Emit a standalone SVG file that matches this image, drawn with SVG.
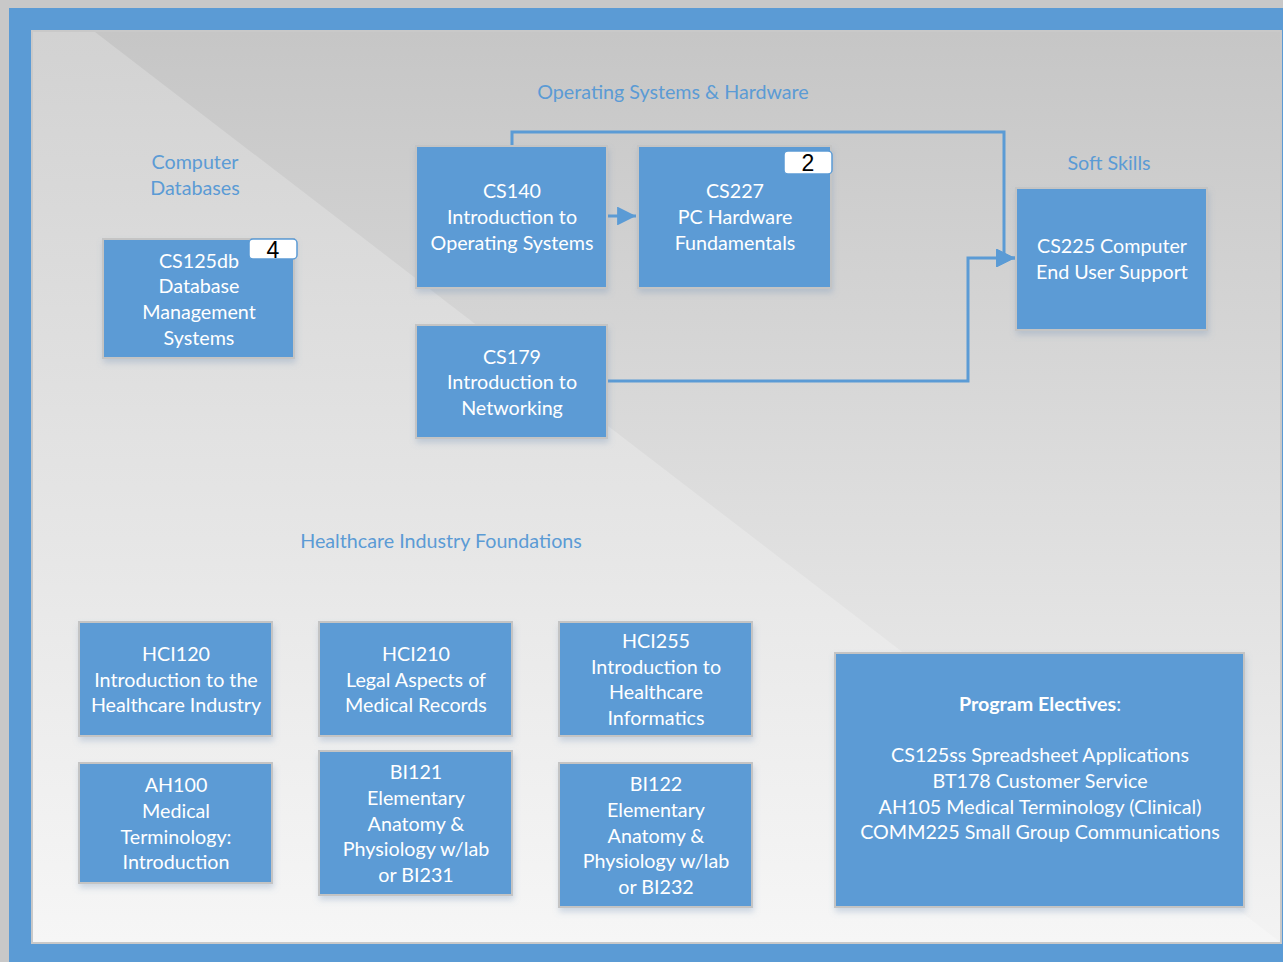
<svg xmlns="http://www.w3.org/2000/svg" width="1283" height="962" viewBox="0 0 1283 962">
<defs>
<linearGradient id="bgL" x1="0" y1="0" x2="0" y2="1">
<stop offset="0" stop-color="#d2d2d2"/>
<stop offset="1" stop-color="#f6f6f6"/>
</linearGradient>
<linearGradient id="bgR" x1="0" y1="0" x2="0" y2="1">
<stop offset="0" stop-color="#c6c6c6"/>
<stop offset="1" stop-color="#f3f3f3"/>
</linearGradient>
<filter id="sh" x="-10%" y="-10%" width="130%" height="130%">
<feDropShadow dx="1" dy="4" stdDeviation="3" flood-color="#6f8fb5" flood-opacity="0.3"/>
</filter>
<marker id="arr" viewBox="0 0 10 10" refX="10" refY="5" markerWidth="6.3" markerHeight="6.3" markerUnits="strokeWidth" orient="auto">
<path d="M0,0 L10,5 L0,10 z" fill="#5b9bd5"/>
</marker>
<style>
.node rect.box{fill:#5b9bd5;stroke:#c4c4c4;stroke-width:2;filter:url(#sh)}
.node text{font-family:Lato,"Liberation Sans",sans-serif;font-size:19.7px;fill:#ffffff;text-anchor:middle}
.lbl{font-family:Lato,"Liberation Sans",sans-serif;font-size:19.7px;fill:#5b9bd5;text-anchor:middle}
.badge rect{fill:#ffffff;stroke:#5b9bd5;stroke-width:1.5}
.badge text{font-family:"Liberation Sans",sans-serif;font-size:23px;fill:#000000;text-anchor:middle}
.conn path{fill:none;stroke:#5b9bd5;stroke-width:3}
</style>
</defs>
<rect x="0" y="0" width="1283" height="962" fill="#c8c8c8"/>
<rect x="9" y="8" width="1274" height="954" fill="#5b9bd5"/>
<rect x="31" y="30" width="1251" height="914" fill="#c9c9c9"/>
<rect x="33" y="32" width="1247" height="910" fill="url(#bgL)"/>
<polygon points="95,32 1280,32 1280,942" fill="url(#bgR)"/>

<g id="labels">
<text class="lbl" x="673" y="99">Operating Systems &amp; Hardware</text>
<text class="lbl" x="195" y="169">Computer</text>
<text class="lbl" x="195" y="195">Databases</text>
<text class="lbl" x="1109" y="170">Soft Skills</text>
<text class="lbl" x="441" y="548">Healthcare Industry Foundations</text>
</g>

<g id="connectors" class="conn">
<path d="M607,216 H636" marker-end="url(#arr)"/>
<path d="M512,146 V132 H1004 V258 H1015" marker-end="url(#arr)"/>
<path d="M607,381 H968 V258 H1015" marker-end="url(#arr)"/>
</g>

<g id="cs125db" class="node">
<rect class="box" x="103" y="239" width="191" height="119"/>
<text x="199" y="268">CS125db</text>
<text x="199" y="293">Database</text>
<text x="199" y="319">Management</text>
<text x="199" y="345">Systems</text>
<g class="badge"><rect x="249" y="239" width="48" height="20" rx="4"/><text x="273" y="258">4</text></g>
</g>

<g id="cs140" class="node">
<rect class="box" x="416" y="146" width="191" height="142"/>
<text x="512" y="198">CS140</text>
<text x="512" y="224">Introduction to</text>
<text x="512" y="250">Operating Systems</text>
</g>

<g id="cs227" class="node">
<rect class="box" x="638" y="146" width="193" height="142"/>
<text x="735" y="198">CS227</text>
<text x="735" y="224">PC Hardware</text>
<text x="735" y="250">Fundamentals</text>
<g class="badge"><rect x="784" y="151" width="48" height="23" rx="4"/><text x="808" y="171">2</text></g>
</g>

<g id="cs179" class="node">
<rect class="box" x="416" y="325" width="191" height="113"/>
<text x="512" y="364">CS179</text>
<text x="512" y="389">Introduction to</text>
<text x="512" y="415">Networking</text>
</g>

<g id="cs225" class="node">
<rect class="box" x="1016" y="188" width="191" height="142"/>
<text x="1112" y="253">CS225 Computer</text>
<text x="1112" y="279">End User Support</text>
</g>

<g id="hci120" class="node">
<rect class="box" x="79" y="622" width="193" height="114"/>
<text x="176" y="661">HCI120</text>
<text x="176" y="687">Introduction to the</text>
<text x="176" y="712">Healthcare Industry</text>
</g>

<g id="hci210" class="node">
<rect class="box" x="319" y="622" width="193" height="114"/>
<text x="416" y="661">HCI210</text>
<text x="416" y="687">Legal Aspects of</text>
<text x="416" y="712">Medical Records</text>
</g>

<g id="hci255" class="node">
<rect class="box" x="559" y="622" width="193" height="114"/>
<text x="656" y="648">HCI255</text>
<text x="656" y="674">Introduction to</text>
<text x="656" y="699">Healthcare</text>
<text x="656" y="725">Informatics</text>
</g>

<g id="ah100" class="node">
<rect class="box" x="79" y="763" width="193" height="120"/>
<text x="176" y="792">AH100</text>
<text x="176" y="818">Medical</text>
<text x="176" y="844">Terminology:</text>
<text x="176" y="869">Introduction</text>
</g>

<g id="bi121" class="node">
<rect class="box" x="319" y="751" width="193" height="144"/>
<text x="416" y="779">BI121</text>
<text x="416" y="805">Elementary</text>
<text x="416" y="831">Anatomy &amp;</text>
<text x="416" y="856">Physiology w/lab</text>
<text x="416" y="882">or BI231</text>
</g>

<g id="bi122" class="node">
<rect class="box" x="559" y="763" width="193" height="144"/>
<text x="656" y="791">BI122</text>
<text x="656" y="817">Elementary</text>
<text x="656" y="843">Anatomy &amp;</text>
<text x="656" y="868">Physiology w/lab</text>
<text x="656" y="894">or BI232</text>
</g>

<g id="electives" class="node">
<rect class="box" x="835" y="653" width="409" height="254"/>
<text x="1040" y="711"><tspan font-weight="bold">Program Electives</tspan>:</text>
<text x="1040" y="762">CS125ss Spreadsheet Applications</text>
<text x="1040" y="788">BT178 Customer Service</text>
<text x="1040" y="814">AH105 Medical Terminology (Clinical)</text>
<text x="1040" y="839">COMM225 Small Group Communications</text>
</g>
</svg>
